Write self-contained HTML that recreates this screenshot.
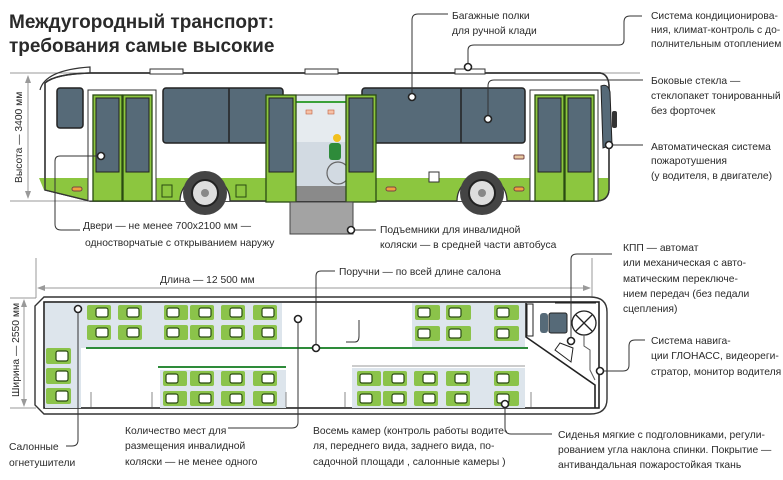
<!DOCTYPE html>
<html><head><meta charset="utf-8"><style>
html,body{margin:0;padding:0;background:#fff;}
svg{display:block;}
text{font-family:"Liberation Sans","DejaVu Sans",sans-serif;fill:#2a2a2a;}
.l{font-size:10.3px;}
.c{fill:none;stroke:#333;stroke-width:1;}
.dot{fill:#fff;stroke:#222;stroke-width:1.6;}
.win{fill:#566a78;stroke:#222;stroke-width:1.5;}
.door{fill:#8cc63f;stroke:#2a4a12;stroke-width:1.3;}
.seat{fill:#8bc34a;}
.si{fill:#fff;stroke:#2a4a12;stroke-width:1.2;}
</style></head><body>
<svg width="783" height="480" viewBox="0 0 783 480" xmlns="http://www.w3.org/2000/svg">
<text x="9" y="28" font-size="19" font-weight="bold" fill="#222">Междугородный транспорт:</text>
<text x="9" y="52" font-size="19" font-weight="bold" fill="#222">требования самые высокие</text>

<!-- dimension lines side -->
<line x1="10" y1="73" x2="640" y2="73" stroke="#999" stroke-width="1"/>
<line x1="10" y1="201" x2="90" y2="201" stroke="#999" stroke-width="1"/>
<line x1="28" y1="76" x2="28" y2="198" stroke="#999" stroke-width="1"/>
<polygon points="28,75 25,83 31,83" fill="#999"/><polygon points="28,199 25,191 31,191" fill="#999"/>
<text transform="translate(22,183) rotate(-90)" class="l">Высота — 3400 мм</text>

<!-- bus body -->
<path d="M45,83 Q55,74 90,73 L600,73 Q608,74 609,85 L609,190 Q608,201 596,201 L90,201 L45,190 Z" fill="#fff" stroke="#333" stroke-width="1.4"/>
<path d="M39,178 L609,178 L609,190 Q608,201 596,201 L90,201 L44,190 Z" fill="#8cc63f"/>
<path d="M45,83 Q55,74 90,73 L600,73 Q608,74 609,85 L609,190 Q608,201 596,201 L90,201 L45,190 Z" fill="none" stroke="#333" stroke-width="1.4"/>
<path d="M40,90 Q45,70 90,67 L90,73" fill="none" stroke="#333" stroke-width="1.2"/>
<rect x="150" y="69" width="33" height="5" fill="#fff" stroke="#333"/>
<rect x="305" y="69" width="33" height="5" fill="#fff" stroke="#333"/>
<rect x="455" y="69" width="30" height="5" fill="#fff" stroke="#333"/>

<rect x="57" y="88" width="26" height="40" rx="3" class="win"/>
<!-- door 1 -->
<rect x="88" y="90" width="68" height="111" fill="#fff" stroke="#333"/>
<rect x="93" y="95" width="29" height="106" class="door"/>
<rect x="123" y="95" width="29" height="106" class="door"/>
<rect x="96" y="98" width="23" height="74" fill="#566a78" stroke="#222"/>
<rect x="126" y="98" width="23" height="74" fill="#566a78" stroke="#222"/>
<!-- windows -->
<rect x="163" y="88" width="120" height="55" rx="3" class="win"/>
<line x1="229" y1="88" x2="229" y2="143" stroke="#222" stroke-width="1.5"/>
<rect x="362" y="88" width="163" height="55" rx="3" class="win"/>
<line x1="461" y1="88" x2="461" y2="143" stroke="#222" stroke-width="1.5"/>
<!-- middle door -->
<rect x="296" y="95" width="50" height="93" fill="#e6ebef" stroke="#333"/>
<rect x="296" y="142" width="50" height="46" fill="#d2dae2"/>
<rect x="296" y="186" width="50" height="15" fill="#8a8a8a"/>
<line x1="296" y1="102" x2="346" y2="102" stroke="#3aa13a" stroke-width="2"/>
<rect x="306" y="110" width="6" height="4" fill="#f6c2a8" stroke="#c06040" stroke-width=".6"/>
<rect x="328" y="110" width="6" height="4" fill="#f6c2a8" stroke="#c06040" stroke-width=".6"/>
<circle cx="338" cy="173" r="11" fill="none" stroke="#666" stroke-width="1.2"/>
<rect x="329" y="143" width="12" height="17" rx="3" fill="#2e8b3a"/>
<circle cx="337" cy="138" r="4" fill="#f2c01e"/>
<rect x="266" y="95" width="30" height="107" class="door"/>
<rect x="346" y="95" width="30" height="107" class="door"/>
<rect x="269" y="98" width="24" height="74" fill="#566a78" stroke="#222"/>
<rect x="349" y="98" width="24" height="74" fill="#566a78" stroke="#222"/>
<rect x="290" y="202" width="63" height="32" fill="#a3a3a3" stroke="#444"/>
<!-- front door -->
<rect x="530" y="90" width="68" height="111" fill="#fff" stroke="#333"/>
<rect x="535" y="95" width="29" height="106" class="door"/>
<rect x="565" y="95" width="29" height="106" class="door"/>
<rect x="538" y="98" width="23" height="74" fill="#566a78" stroke="#222"/>
<rect x="568" y="98" width="23" height="74" fill="#566a78" stroke="#222"/>
<path d="M601,86 Q608,83 610,92 L612,145 L603,148 Z" fill="#566a78" stroke="#222"/>
<rect x="612" y="111" width="5" height="17" rx="2" fill="#333"/>
<!-- small lamps -->
<rect x="72" y="187" width="10" height="4" rx="2" fill="#f0a040" stroke="#744"/>
<rect x="386" y="187" width="10" height="4" rx="2" fill="#f0a040" stroke="#744"/>
<rect x="514" y="187" width="10" height="4" rx="2" fill="#f0a040" stroke="#744"/>
<rect x="514" y="155" width="10" height="4" rx="1" fill="#e8c8a0" stroke="#744"/>
<rect x="162" y="185" width="10" height="12" fill="none" stroke="#2a4a12"/>
<rect x="236" y="185" width="10" height="12" fill="none" stroke="#2a4a12"/>
<rect x="429" y="172" width="10" height="10" fill="#fff" stroke="#333"/>
<!-- wheels -->
<path d="M180,201 A25,25 0 0 1 230,201" fill="#fff" stroke="#333" stroke-width="1.3"/>
<circle cx="205" cy="193" r="22" fill="#444"/><circle cx="205" cy="193" r="13" fill="#ddd" stroke="#222" stroke-width="2"/><circle cx="205" cy="193" r="4" fill="#888"/>
<path d="M457,201 A25,25 0 0 1 507,201" fill="#fff" stroke="#333" stroke-width="1.3"/>
<circle cx="482" cy="193" r="22" fill="#444"/><circle cx="482" cy="193" r="13" fill="#ddd" stroke="#222" stroke-width="2"/><circle cx="482" cy="193" r="4" fill="#888"/>

<!-- callouts top -->
<path class="c" d="M101,156 L60,156 Q55,156 55,161 L55,224 Q55,230 61,230 L80,230"/>
<circle cx="101" cy="156" r="3.5" class="dot"/>
<text x="83" y="229" class="l">Двери — не менее 700x2100 мм —</text>
<text x="85" y="246" class="l">одностворчатые с открыванием наружу</text>
<path class="c" d="M353,230 L376,230"/><circle cx="351" cy="230" r="3.5" class="dot"/>
<text x="380" y="233" class="l">Подъемники для инвалидной</text>
<text x="380" y="248" class="l">коляски — в средней части автобуса</text>
<path class="c" d="M412,97 L412,20 Q412,14 418,14 L448,14"/><circle cx="412" cy="97" r="3.5" class="dot"/>
<text x="452" y="19" class="l">Багажные полки</text><text x="452" y="34" class="l">для ручной клади</text>
<path class="c" d="M468,66 L468,50 Q468,45 474,45 L619,45 Q624,45 624,40 L624,22 Q624,16 630,16 L642,16"/><circle cx="468" cy="67" r="3.5" class="dot"/>
<text x="651" y="19" class="l">Система кондиционирова-</text>
<text x="651" y="33" class="l">ния, климат-контроль с до-</text>
<text x="651" y="47" class="l">полнительным отоплением</text>
<path class="c" d="M488,118 L488,86 Q488,80 494,80 L643,80"/><circle cx="488" cy="119" r="3.5" class="dot"/>
<text x="651" y="84" class="l">Боковые стекла —</text>
<text x="651" y="99" class="l">стеклопакет тонированный</text>
<text x="651" y="114" class="l">без форточек</text>
<path class="c" d="M612,145 L643,145"/><circle cx="609" cy="145" r="3.5" class="dot"/>
<text x="651" y="150" class="l">Автоматическая система</text>
<text x="651" y="164" class="l">пожаротушения</text>
<text x="651" y="179" class="l">(у водителя, в двигателе)</text>

<!-- top view dims -->
<line x1="36" y1="258" x2="36" y2="298" stroke="#999"/>
<line x1="592" y1="258" x2="592" y2="298" stroke="#999"/>
<line x1="38" y1="288" x2="590" y2="288" stroke="#999"/>
<polygon points="37,288 45,285 45,291" fill="#999"/><polygon points="591,288 583,285 583,291" fill="#999"/>
<text x="160" y="283" class="l">Длина — 12 500 мм</text>
<line x1="10" y1="298" x2="36" y2="298" stroke="#999"/>
<line x1="10" y1="408" x2="36" y2="408" stroke="#999"/>
<line x1="24" y1="300" x2="24" y2="406" stroke="#999"/>
<polygon points="24,299 21,307 27,307" fill="#999"/><polygon points="24,407 21,399 27,399" fill="#999"/>
<text transform="translate(19,397) rotate(-90)" class="l">Ширина — 2550 мм</text>

<!-- top view body -->
<path d="M44,297 L590,297 Q607,297 607,312 L607,399 Q607,414 590,414 L44,414 L35,405 L35,306 Z" fill="#fff" stroke="#333" stroke-width="1.4"/>
<rect x="44" y="302" width="555" height="106" fill="#fff" stroke="#222" stroke-width="1.6"/>
<rect x="45" y="303" width="237" height="45" fill="#dde5ec"/>
<rect x="45" y="348" width="36" height="60" fill="#dde5ec"/>
<rect x="412" y="303" width="113" height="44" fill="#dde5ec"/>
<rect x="160" y="370" width="126" height="38" fill="#dde5ec"/>
<rect x="352" y="368" width="173" height="40" fill="#dde5ec"/>
<line x1="86" y1="348" x2="528" y2="348" stroke="#2e8b3a" stroke-width="2"/>
<line x1="158" y1="367" x2="286" y2="367" stroke="#2e8b3a" stroke-width="2"/>
<line x1="352" y1="366" x2="525" y2="366" stroke="#999" stroke-width="1"/>
<g stroke="#888"><line x1="91" y1="392" x2="91" y2="407"/><line x1="152" y1="392" x2="152" y2="407"/><line x1="286" y1="392" x2="286" y2="407"/><line x1="345" y1="392" x2="345" y2="407"/><line x1="531" y1="392" x2="531" y2="407"/></g>
<!-- seats -->
<g>
<rect class="seat" x="87" y="305" width="24" height="15" rx="2"/><rect class="seat" x="118" y="305" width="24" height="15" rx="2"/>
<rect class="seat" x="164" y="305" width="24" height="15" rx="2"/><rect class="seat" x="190" y="305" width="24" height="15" rx="2"/>
<rect class="seat" x="221" y="305" width="24" height="15" rx="2"/><rect class="seat" x="253" y="305" width="24" height="15" rx="2"/>
<rect class="seat" x="87" y="325" width="24" height="15" rx="2"/><rect class="seat" x="118" y="325" width="24" height="15" rx="2"/>
<rect class="seat" x="164" y="325" width="24" height="15" rx="2"/><rect class="seat" x="190" y="325" width="24" height="15" rx="2"/>
<rect class="seat" x="221" y="325" width="24" height="15" rx="2"/><rect class="seat" x="253" y="325" width="24" height="15" rx="2"/>
<rect class="seat" x="46" y="348" width="25" height="16" rx="2"/><rect class="seat" x="46" y="368" width="25" height="16" rx="2"/><rect class="seat" x="46" y="388" width="25" height="16" rx="2"/>
<rect class="seat" x="163" y="371" width="24" height="15" rx="2"/><rect class="seat" x="190" y="371" width="24" height="15" rx="2"/>
<rect class="seat" x="221" y="371" width="24" height="15" rx="2"/><rect class="seat" x="253" y="371" width="24" height="15" rx="2"/>
<rect class="seat" x="163" y="391" width="24" height="15" rx="2"/><rect class="seat" x="190" y="391" width="24" height="15" rx="2"/>
<rect class="seat" x="221" y="391" width="24" height="15" rx="2"/><rect class="seat" x="253" y="391" width="24" height="15" rx="2"/>
<rect class="seat" x="415" y="305" width="25" height="15" rx="2"/><rect class="seat" x="446" y="305" width="25" height="15" rx="2"/><rect class="seat" x="494" y="305" width="25" height="15" rx="2"/>
<rect class="seat" x="415" y="326" width="25" height="15" rx="2"/><rect class="seat" x="446" y="326" width="25" height="15" rx="2"/><rect class="seat" x="494" y="326" width="25" height="15" rx="2"/>
<rect class="seat" x="357" y="371" width="24" height="15" rx="2"/><rect class="seat" x="383" y="371" width="24" height="15" rx="2"/><rect class="seat" x="414" y="371" width="24" height="15" rx="2"/><rect class="seat" x="446" y="371" width="24" height="15" rx="2"/><rect class="seat" x="494" y="371" width="25" height="15" rx="2"/>
<rect class="seat" x="357" y="391" width="24" height="15" rx="2"/><rect class="seat" x="383" y="391" width="24" height="15" rx="2"/><rect class="seat" x="414" y="391" width="24" height="15" rx="2"/><rect class="seat" x="446" y="391" width="24" height="15" rx="2"/><rect class="seat" x="494" y="391" width="25" height="15" rx="2"/>
</g>
<g class="si">
<rect x="96" y="308" width="12" height="9" rx="2"/><rect x="127" y="308" width="12" height="9" rx="2"/><rect x="167" y="308" width="12" height="9" rx="2"/><rect x="199" y="308" width="12" height="9" rx="2"/><rect x="230" y="308" width="12" height="9" rx="2"/><rect x="262" y="308" width="12" height="9" rx="2"/>
<rect x="96" y="328" width="12" height="9" rx="2"/><rect x="127" y="328" width="12" height="9" rx="2"/><rect x="167" y="328" width="12" height="9" rx="2"/><rect x="199" y="328" width="12" height="9" rx="2"/><rect x="230" y="328" width="12" height="9" rx="2"/><rect x="262" y="328" width="12" height="9" rx="2"/>
<rect x="56" y="351" width="12" height="10" rx="2"/><rect x="56" y="371" width="12" height="10" rx="2"/><rect x="56" y="391" width="12" height="10" rx="2"/>
<rect x="166" y="374" width="12" height="9" rx="2"/><rect x="199" y="374" width="12" height="9" rx="2"/><rect x="230" y="374" width="12" height="9" rx="2"/><rect x="262" y="374" width="12" height="9" rx="2"/>
<rect x="166" y="394" width="12" height="9" rx="2"/><rect x="199" y="394" width="12" height="9" rx="2"/><rect x="230" y="394" width="12" height="9" rx="2"/><rect x="262" y="394" width="12" height="9" rx="2"/>
<rect x="418" y="308" width="12" height="9" rx="2"/><rect x="449" y="308" width="12" height="9" rx="2"/><rect x="497" y="308" width="12" height="9" rx="2"/>
<rect x="418" y="329" width="12" height="9" rx="2"/><rect x="449" y="329" width="12" height="9" rx="2"/><rect x="497" y="329" width="12" height="9" rx="2"/>
<rect x="360" y="374" width="12" height="9" rx="2"/><rect x="392" y="374" width="12" height="9" rx="2"/><rect x="423" y="374" width="12" height="9" rx="2"/><rect x="455" y="374" width="12" height="9" rx="2"/><rect x="497" y="374" width="12" height="9" rx="2"/>
<rect x="360" y="394" width="12" height="9" rx="2"/><rect x="392" y="394" width="12" height="9" rx="2"/><rect x="423" y="394" width="12" height="9" rx="2"/><rect x="455" y="394" width="12" height="9" rx="2"/><rect x="497" y="394" width="12" height="9" rx="2"/>
</g>
<!-- driver area -->
<path d="M526,303 L526,337 L595,385 L595,408" fill="none" stroke="#222" stroke-width="1.6"/>
<rect x="527" y="304" width="6" height="32" fill="#fff" stroke="#222"/>
<rect x="540" y="313" width="8" height="20" rx="3" fill="#566a78"/>
<rect x="549" y="313" width="18" height="20" rx="2" fill="#566a78" stroke="#222"/>
<circle cx="584" cy="323" r="12" fill="#fff" stroke="#222" stroke-width="1.3"/>
<path d="M576,315 L592,331 M592,315 L576,331" stroke="#222" stroke-width="1.3"/>
<polygon points="555,350 560,343 573,348 571,362" fill="#fff" stroke="#222"/>
<path d="M584,335 L584,346 L590,350 L590,370 L595,380" fill="none" stroke="#555"/>
<line x1="555" y1="303" x2="596" y2="303" stroke="#222"/>
<!-- top view callouts -->
<circle cx="78" cy="309" r="3.5" class="dot"/>
<path class="c" d="M78,313 L78,440 Q78,446 72,446 L66,446"/>
<text x="9" y="450" class="l">Салонные</text><text x="9" y="466" class="l">огнетушители</text>
<circle cx="298" cy="319" r="3.5" class="dot"/>
<path class="c" d="M298,323 L298,422 Q298,428 292,428 L228,428"/>
<text x="125" y="434" class="l">Количество мест для</text>
<text x="125" y="449" class="l">размещения инвалидной</text>
<text x="125" y="465" class="l">коляски — не менее одного</text>
<circle cx="316" cy="348" r="3.5" class="dot"/>
<path class="c" d="M316,344 L316,276 Q316,271 321,271 L335,271 M346,342 L355,342 Q359,342 359,336 L359,320"/>
<text x="339" y="275" class="l">Поручни — по всей длине салона</text>
<text x="313" y="434" class="l">Восемь камер (контроль работы водите-</text>
<text x="313" y="449" class="l">ля, переднего вида, заднего вида, по-</text>
<text x="313" y="465" class="l">садочной площади , салонные камеры )</text>
<circle cx="571" cy="341" r="3.5" class="dot"/>
<path class="c" d="M571,337 L571,259 Q571,254 577,254 L612,254"/>
<text x="623" y="251" class="l">КПП — автомат</text>
<text x="623" y="266" class="l">или механическая с авто-</text>
<text x="623" y="282" class="l">матическим переключе-</text>
<text x="623" y="297" class="l">нием передач (без педали</text>
<text x="623" y="312" class="l">сцепления)</text>
<circle cx="600" cy="371" r="3.5" class="dot"/>
<path class="c" d="M604,371 L623,371 Q629,371 629,365 L629,346 Q629,340 635,340 L645,340"/>
<text x="651" y="344" class="l">Система навига-</text>
<text x="651" y="359" class="l">ции ГЛОНАСС, видеореги-</text>
<text x="651" y="375" class="l">стратор, монитор водителя</text>
<circle cx="505" cy="404" r="3.5" class="dot"/>
<path class="c" d="M505,408 L505,428 Q505,434 511,434 L552,434"/>
<text x="558" y="438" class="l">Сиденья мягкие с подголовниками, регули-</text>
<text x="558" y="453" class="l">рованием угла наклона спинки. Покрытие —</text>
<text x="558" y="468" class="l">антивандальная пожаростойкая ткань</text>
</svg>
</body></html>
